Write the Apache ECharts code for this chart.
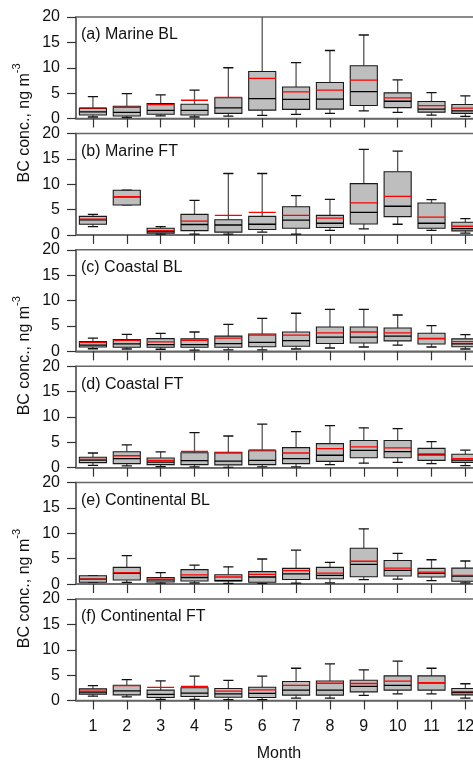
<!DOCTYPE html>
<html>
<head>
<meta charset="utf-8">
<script src="https://cdn.jsdelivr.net/npm/echarts@6/dist/echarts.min.js"></script>
<style>
html,body{margin:0;padding:0;background:#fff;overflow:hidden;width:473px;height:761px;}
#chart{width:490px;height:761px;}
</style>
</head>
<body>
<div id="chart"></div>
<script>
// Month categories and y tick labels
const months = ['1','2','3','4','5','6','7','8','9','10','11','12'];
const yTicks = [0, 5, 10, 15, 20];
const panelLabels = ['(a) Marine BL','(b) Marine FT','(c) Coastal BL','(d) Coastal FT','(e) Continental BL','(f) Continental FT'];

// Each row: [lower whisker, Q1, median, Q3, upper whisker, mean] per month
const marineBL = [
  [0.3,0.7,1.3,2.0,4.3,2.1],
  [0.2,0.5,1.2,2.4,4.9,2.2],
  [0.5,0.85,1.6,2.95,4.65,2.75],
  [0.3,0.7,1.6,2.8,5.6,3.6],
  [0.45,1.0,2.1,4.1,10.0,4.15],
  [0.6,1.65,3.9,9.25,25,7.9],
  [0.8,1.8,3.75,6.2,11.0,5.25],
  [1.0,1.85,3.8,7.1,13.4,5.6],
  [1.5,2.55,5.3,10.4,16.45,7.55],
  [1.2,2.15,3.4,5.05,7.6,4.05],
  [0.65,1.25,1.85,3.35,5.1,2.55],
  [0.4,1.0,1.5,2.75,4.45,2.05]
];
const marineFT = [
  [1.65,2.1,2.95,3.65,4.05,3.1],
  [5.9,5.9,7.5,8.8,8.8,7.55],
  [0.15,0.35,0.65,1.3,1.65,0.85],
  [0.15,0.85,2.05,4.05,6.8,2.7],
  [0.15,0.55,1.95,3.0,12.1,3.85],
  [0.55,1.05,2.1,3.65,12.1,4.45],
  [0.15,1.3,2.9,5.55,7.75,3.85],
  [0.9,1.45,2.3,3.85,7.0,3.3],
  [1.2,2.15,4.45,10.1,16.85,6.3],
  [2.1,3.6,5.65,12.45,16.5,7.6],
  [0.9,1.3,2.3,6.3,6.95,3.5],
  [0.35,0.8,1.25,2.5,3.2,1.7]
];
const coastalBL = [
  [0.5,0.85,1.2,1.9,2.6,1.75],
  [0.45,0.8,1.45,2.3,3.35,2.15],
  [0.4,0.8,1.3,2.5,3.55,1.85],
  [0.25,0.8,1.3,2.45,3.8,2.15],
  [0.3,0.8,1.5,3.0,5.3,2.6],
  [0.3,0.9,1.75,3.4,6.5,3.2],
  [0.45,1.0,2.1,3.8,7.5,3.2],
  [0.65,1.55,2.8,4.8,8.25,3.65],
  [0.85,1.65,2.8,4.8,8.25,3.8],
  [1.2,2.05,3.0,4.6,7.15,3.65],
  [0.85,1.45,2.5,3.55,5.05,2.55],
  [0.45,0.9,1.45,2.45,3.3,1.9]
];
const coastalFT = [
  [0.45,1.0,1.5,2.05,2.9,1.65],
  [0.35,0.8,1.8,3.15,4.5,2.35],
  [0.2,0.6,1.1,1.9,3.1,1.45],
  [0.15,0.6,1.4,2.95,6.9,3.2],
  [0.05,0.55,1.3,3.05,6.25,2.9],
  [0.15,0.6,1.45,3.35,8.6,3.5],
  [0.15,0.8,1.8,3.95,7.1,2.9],
  [0.6,1.25,2.45,4.75,8.3,3.75],
  [0.9,1.95,3.4,5.35,7.85,4.1],
  [1.05,1.95,3.15,5.35,7.7,3.9],
  [0.8,1.45,2.55,3.8,5.15,2.7],
  [0.4,1.05,1.5,2.65,3.45,1.8]
];
const continentalBL = [
  [0.35,0.35,1.0,1.65,1.65,1.0],
  [0.35,0.8,2.1,3.3,5.6,2.25],
  [0.2,0.4,0.85,1.3,2.25,1.0],
  [0.25,0.6,1.3,2.85,3.75,1.8],
  [0.15,0.6,0.7,1.85,3.4,1.4],
  [0.15,0.35,1.4,2.45,4.95,1.9],
  [0.2,0.9,2.0,3.1,6.7,2.65],
  [0.25,1.05,1.7,3.3,4.3,2.15],
  [0.9,1.45,3.9,7.05,10.9,4.5],
  [1.0,1.6,2.7,4.65,6.05,3.15],
  [0.7,1.4,2.1,3.1,4.8,2.35],
  [0.25,0.55,1.6,3.15,4.55,1.7]
];
const continentalFT = [
  [0.85,1.25,1.65,2.3,2.95,1.85],
  [0.7,1.1,1.9,3.0,4.1,2.95],
  [0.2,0.6,1.2,2.05,3.85,2.6],
  [0.2,0.8,1.45,2.5,4.8,2.8],
  [0.15,0.65,1.3,2.35,3.95,1.85],
  [0.15,0.6,1.4,2.6,4.8,2.1],
  [0.45,1.05,2.05,3.75,6.35,3.0],
  [0.45,1.05,2.05,3.85,7.2,3.4],
  [1.0,1.7,2.8,4.0,6.05,3.35],
  [1.3,2.05,3.0,4.85,7.75,3.8],
  [1.3,2.05,3.5,4.85,6.35,3.5],
  [0.45,1.1,1.55,2.35,3.3,1.75]
];

const panels = [marineBL, marineFT, coastalBL, coastalFT, continentalBL, continentalFT];

const GRID_LEFT = 76, GRID_WIDTH = 406.3, TOP0 = 17, STEP = 116.4, GRID_H = 101.5;
const FONT = 'Liberation Sans, Arial, Helvetica, sans-serif';
const AXIS_COLOR = '#666';

function ln(x1, y1, x2, y2, stroke, w) {
  return {type: 'line', shape: {x1, y1, x2, y2}, style: {stroke, lineWidth: w}};
}

function renderBox(params, api) {
  const x = api.value(0);
  const band = api.size([1, 0])[0];
  const bw = band * 0.8, cw = band * 0.3;
  const cx = api.coord([x, 0])[0];
  const yy = i => api.coord([x, api.value(i)])[1];
  const yl = yy(1), y1 = yy(2), ym = yy(3), y3 = yy(4), yh = yy(5), ymean = yy(6);
  return {
    type: 'group',
    children: [
      ln(cx, yh, cx, y3, '#555', 1.3),
      ln(cx, y1, cx, yl, '#555', 1.3),
      ln(cx - cw / 2, yh, cx + cw / 2, yh, '#111', 1.3),
      ln(cx - cw / 2, yl, cx + cw / 2, yl, '#111', 1.3),
      {type: 'rect', shape: {x: cx - bw / 2, y: y3, width: bw, height: y1 - y3},
       style: {fill: '#bebebe', stroke: '#1a1a1a', lineWidth: 1.1}},
      ln(cx - bw / 2, ym, cx + bw / 2, ym, '#000', 1.3),
      ln(cx - bw / 2, ymean, cx + bw / 2, ymean, '#ff0000', 1.3)
    ]
  };
}

const grids = [], xAxes = [], yAxes = [], series = [], graphics = [];
panels.forEach((rows, i) => {
  const top = TOP0 + i * STEP;
  grids.push({left: GRID_LEFT, top: top, width: GRID_WIDTH, height: GRID_H, containLabel: false,
    show: true, borderColor: AXIS_COLOR, borderWidth: 1.5, backgroundColor: 'transparent'});
  xAxes.push({
    type: 'category', gridIndex: i, data: months, boundaryGap: true,
    axisLine: {show: true, lineStyle: {color: AXIS_COLOR, width: 1.5}},
    axisTick: {show: true, alignWithLabel: true, length: 9, lineStyle: {color: '#333', width: 1.2}},
    axisLabel: {show: i === panels.length - 1, fontSize: 16, color: '#111', fontFamily: FONT, margin: 18},
    splitLine: {show: false}
  });
  yAxes.push({
    type: 'value', gridIndex: i, min: yTicks[0], max: yTicks[yTicks.length - 1],
    interval: yTicks[1] - yTicks[0],
    axisLine: {show: true, lineStyle: {color: AXIS_COLOR, width: 1.5}},
    axisTick: {show: true, length: 9, lineStyle: {color: '#333', width: 1.2}},
    axisLabel: {fontSize: 16, color: '#111', fontFamily: FONT, margin: 16},
    splitLine: {show: false}
  });
  series.push({
    type: 'custom', xAxisIndex: i, yAxisIndex: i, clip: true,
    renderItem: renderBox,
    encode: {x: 0, y: [1, 2, 3, 4, 5, 6]},
    data: rows.map((r, m) => [m].concat(r))
  });
  graphics.push({
    type: 'text', left: 81, top: top + 10,
    style: {text: panelLabels[i], fontSize: 16, fontFamily: FONT, fill: '#111'}
  });
});

// y-axis titles spanning two panels each
[0, 2, 4].forEach(i => {
  const cy = TOP0 + i * STEP + GRID_H + (STEP - GRID_H) / 2 - 3;
  graphics.push({
    type: 'text', x: 22, y: cy, rotation: Math.PI / 2,
    style: {
      text: '{m|BC conc., ng m}{s|-3}', align: 'center', verticalAlign: 'middle',
      rich: {
        m: {fontSize: 16, fontFamily: FONT, fill: '#111', lineHeight: 22, verticalAlign: 'bottom'},
        s: {fontSize: 11, fontFamily: FONT, fill: '#111', lineHeight: 22, verticalAlign: 'top'}
      }
    }
  });
});

graphics.push({
  type: 'text', x: GRID_LEFT + 203, y: 754,
  style: {text: 'Month', fontSize: 16, fontFamily: FONT, fill: '#111', align: 'center', verticalAlign: 'middle'}
});

const chart = echarts.init(document.getElementById('chart'), null, {renderer: 'canvas', width: 490, height: 761});
chart.setOption({
  backgroundColor: '#fff',
  animation: false,
  grid: grids,
  xAxis: xAxes,
  yAxis: yAxes,
  series: series,
  graphic: graphics
});
</script>
</body>
</html>
